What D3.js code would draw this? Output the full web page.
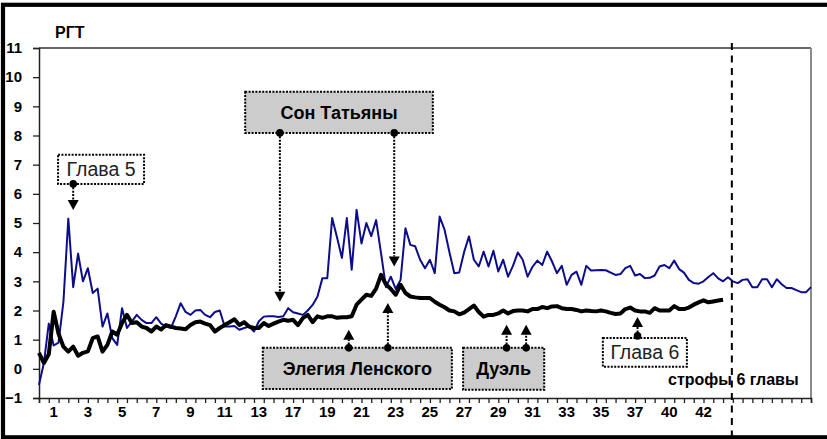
<!DOCTYPE html>
<html>
<head>
<meta charset="utf-8">
<script src="https://cdn.jsdelivr.net/npm/d3@7"></script>
<style>
  body { margin: 0; background: #fff; }
  svg { display: block; }
  text { font-family: "Liberation Sans", Arial, sans-serif; }
</style>
</head>
<body>
<svg id="chart" width="827" height="439"></svg>
<script>
// values, one per category (x position)
const blueSeries = [
  -0.55, 0.2, 1.55, 0.8, 0.9, 2.3, 5.15, 2.8, 3.95, 3.0,
  3.45, 2.6, 2.75, 1.45, 1.9, 1.05, 0.82, 2.08, 1.4, 1.62,
  1.85, 1.68, 1.57, 1.57, 1.77, 1.55, 1.45, 1.4, 1.8, 2.25,
  1.95, 1.85, 2.0, 2.02, 1.85, 1.77, 1.95, 2.0, 1.45, 1.45,
  1.47, 1.34, 1.4, 1.45, 1.28, 1.63, 1.79, 1.8, 1.8, 1.78,
  1.8, 2.08, 1.94, 1.9, 1.85, 2.0, 2.19, 2.48, 3.11, 3.11,
  5.17, 4.5, 3.8, 5.17, 3.4, 5.45, 4.3, 5.0, 4.55, 5.1,
  3.97, 2.8, 3.16, 2.74, 3.05, 4.82, 4.25, 4.2, 3.74, 3.45,
  3.74, 3.28, 5.22, 4.77, 4.0, 3.28, 3.3, 4.0, 4.54, 3.74,
  3.51, 4.02, 3.51, 4.05, 3.34, 3.74, 3.16, 3.53, 3.99, 3.74,
  3.16, 3.5, 3.71, 3.56, 4.02, 3.68, 3.28, 3.53, 2.88, 3.22,
  3.33, 2.88, 3.53, 3.37, 3.38, 3.39, 3.38, 3.3, 3.22, 3.25,
  3.45, 3.53, 3.2, 3.25, 3.11, 3.12, 3.2, 3.51, 3.56, 3.45,
  3.71, 3.42, 3.3, 3.05, 2.94, 2.92, 3.0, 3.15, 3.28, 3.1,
  3.0, 3.14, 3.0, 2.94, 3.05, 3.07, 2.8, 2.8, 3.07, 3.07,
  2.8, 3.07, 2.9, 2.77, 2.77, 2.7, 2.63, 2.63, 2.8
]

const blackSeries = [
  0.55, 0.2, 0.5, 1.96, 1.2, 0.76, 0.59, 0.76, 0.45, 0.55,
  0.6, 1.05, 1.11, 0.59, 0.82, 1.28, 1.17, 1.57, 1.85, 1.57,
  1.6, 1.45, 1.4, 1.28, 1.45, 1.35, 1.5, 1.45, 1.4, 1.38,
  1.36, 1.5, 1.6, 1.62, 1.55, 1.5, 1.28, 1.4, 1.5, 1.6,
  1.7, 1.5, 1.6, 1.45, 1.4, 1.4, 1.57, 1.47, 1.55, 1.62,
  1.68, 1.65, 1.68, 1.5, 1.74, 1.85, 1.6, 1.8, 1.75, 1.8,
  1.8, 1.75, 1.77, 1.77, 1.8, 2.2, 2.37, 2.54, 2.5, 2.75,
  3.22, 2.9, 2.74, 2.54, 2.88, 2.6, 2.48, 2.45, 2.43, 2.43,
  2.43, 2.3, 2.2, 2.11, 2.0, 1.97, 1.87, 1.93, 2.05, 2.17,
  1.95, 1.79, 1.85, 1.85, 1.9, 2.0, 1.9, 1.98, 2.0, 2.0,
  1.97, 2.05, 2.05, 2.12, 2.08, 2.14, 2.15, 2.08, 2.05, 2.05,
  2.02, 1.97, 2.0, 1.98, 1.97, 2.0, 1.97, 1.92, 1.88, 1.9,
  2.05, 2.1, 2.0, 1.97, 1.97, 1.92, 2.08, 2.0, 2.0, 2.0,
  2.15, 2.05, 2.05, 2.1, 2.2, 2.28, 2.35, 2.28, 2.31, 2.34,
  2.37
]

// stanza numbers shown under the axis, one every 7 categories from category 3
const tickLabels = ['1', '3', '5', '7', '9', '11', '13', '17', '19', '21',
  '23', '25', '27', '29', '31', '33', '35', '37', '40', '42']
const yTicks = [-1, 0, 1, 2, 3, 4, 5, 6, 7, 8, 9, 10, 11]

const nCat = blueSeries.length - 1
const margin = {left: 39, right: 16, top: 48, bottom: 41}
const width = 827
const height = 439

const svg = d3.select('#chart')
const x = d3.scaleLinear().domain([0, nCat]).range([margin.left, width - margin.right])
const y = d3.scaleLinear().domain([-1, 11]).range([height - margin.bottom, margin.top])

// outer thick frame (right side runs off the picture)
svg.append('rect')
  .attr('x', 3).attr('y', 4.8)
  .attr('width', 900).attr('height', 432.5)
  .attr('fill', 'none').attr('stroke', '#000').attr('stroke-width', 4.2)

// plot area border (top + right)
svg.append('line')
  .attr('x1', x(0)).attr('x2', x(nCat))
  .attr('y1', y(11)).attr('y2', y(11))
  .attr('stroke', '#333').attr('stroke-width', 1.5)
svg.append('line')
  .attr('x1', x(nCat)).attr('x2', x(nCat))
  .attr('y1', y(11)).attr('y2', y(-1))
  .attr('stroke', '#8a8a8a').attr('stroke-width', 2)

// y axis
const yAxis = svg.append('g')
  .attr('transform', `translate(${x(0)},0)`)
  .call(d3.axisLeft(y).tickValues(yTicks).tickSize(6).tickPadding(11).tickFormat(d3.format('d')))
yAxis.select('.domain').attr('stroke', '#222').attr('stroke-width', 1.5)
yAxis.selectAll('.tick line').attr('stroke', '#222').attr('stroke-width', 1.3)
yAxis.selectAll('.tick text')
  .attr('font-size', 15).attr('font-weight', 'bold').attr('fill', '#000')
  .style('font-family', '"Liberation Sans", Arial, sans-serif')

// x axis: tick marks every 2 categories, labels every 7
const xAxis = svg.append('g')
  .attr('transform', `translate(0,${y(-1)})`)
  .call(d3.axisBottom(x).tickValues(d3.range(0, nCat + 1, 2)).tickSize(5).tickFormat(''))
xAxis.select('.domain').attr('stroke', '#222').attr('stroke-width', 1.5)
xAxis.selectAll('.tick line').attr('stroke', '#222').attr('stroke-width', 1.3)

svg.append('g')
  .selectAll('text')
  .data(tickLabels)
  .join('text')
  .attr('x', (d, i) => x(3 + 7 * i))
  .attr('y', y(-1) + 19)
  .attr('text-anchor', 'middle')
  .attr('font-size', 15)
  .attr('font-weight', 'bold')
  .text(d => d)

// axis title
svg.append('text')
  .attr('x', 55).attr('y', 38)
  .attr('font-size', 16).attr('font-weight', 'bold')
  .text('РГТ')

// series
const line = d3.line()
  .x((d, i) => x(i))
  .y(d => y(d))

svg.append('path')
  .datum(blueSeries)
  .attr('d', line)
  .attr('fill', 'none')
  .attr('stroke', '#0d0d8c')
  .attr('stroke-width', 2)
  .attr('stroke-linejoin', 'round')

svg.append('path')
  .datum(blackSeries)
  .attr('d', line)
  .attr('fill', 'none')
  .attr('stroke', '#000')
  .attr('stroke-width', 4)
  .attr('stroke-linejoin', 'round')

// chapter boundary
svg.append('line')
  .attr('x1', x(141.8)).attr('x2', x(141.8))
  .attr('y1', 43).attr('y2', 436)
  .attr('stroke', '#000').attr('stroke-width', 2)
  .attr('stroke-dasharray', '7,5.5')

svg.append('text')
  .attr('x', 668).attr('y', 385)
  .attr('font-size', 16).attr('font-weight', 'bold')
  .text('строфы 6 главы')

// annotations: box in category/value units, arrows run from box edge to tip
const notes = [
  {text: 'Глава 5', bold: false, fill: '#fff', size: 19.5, box: [3.9, 21.5, 7.34, 6.34],
    arrows: [{i: 7.0, from: 6.34, to: 5.45}]},
  {text: 'Сон Татьяны', bold: true, fill: '#cccccc', size: 18, box: [42.2, 80.6, 9.5, 8.09],
    arrows: [{i: 49.3, from: 8.09, to: 2.3}, {i: 72.7, from: 8.09, to: 3.51}]},
  {text: 'Элегия Ленского', bold: true, fill: '#cccccc', size: 18, box: [45.8, 84.5, 0.72, -0.69],
    arrows: [{i: 63.4, from: 0.72, to: 1.34}, {i: 71.4, from: 0.72, to: 2.26}]},
  {text: 'Дуэль', bold: true, fill: '#cccccc', size: 18, box: [86.8, 103.4, 0.72, -0.72],
    arrows: [{i: 95.7, from: 0.72, to: 1.51}, {i: 99.7, from: 0.72, to: 1.51}]},
  {text: 'Глава 6', bold: false, fill: '#fff', size: 19.5, box: [115.4, 132.6, 1.06, 0.07],
    arrows: [{i: 122.5, from: 1.13, to: 1.78}]}
]

const dots = '2,1.4'

notes.forEach(n => {
  const g = svg.append('g')
  const x0 = x(n.box[0]), x1 = x(n.box[1])
  const y0 = y(n.box[2]), y1 = y(n.box[3])
  g.append('rect')
    .attr('x', x0).attr('y', y0)
    .attr('width', x1 - x0).attr('height', y1 - y0)
    .attr('fill', n.fill)
    .attr('stroke', '#000').attr('stroke-width', 2)
    .attr('stroke-dasharray', dots)
  g.append('text')
    .attr('x', (x0 + x1) / 2)
    .attr('y', (y0 + y1) / 2 + n.size * 0.36)
    .attr('text-anchor', 'middle')
    .attr('font-size', n.size)
    .attr('font-weight', n.bold ? 'bold' : 'normal')
    .attr('fill', n.bold ? '#000' : '#222')
    .text(n.text)

  n.arrows.forEach(a => {
    const ax = x(a.i)
    const ys = y(a.from)
    const yt = y(a.to)
    const dir = yt > ys ? 1 : -1
    const headLen = 10
    g.append('line')
      .attr('x1', ax).attr('x2', ax)
      .attr('y1', ys).attr('y2', yt - dir * headLen)
      .attr('stroke', '#000').attr('stroke-width', 2)
      .attr('stroke-dasharray', dots)
    g.append('circle')
      .attr('cx', ax).attr('cy', ys).attr('r', 3.8)
      .attr('fill', '#000')
    g.append('path')
      .attr('d', `M${ax - 5.5},${yt - dir * headLen}L${ax + 5.5},${yt - dir * headLen}L${ax},${yt}Z`)
      .attr('fill', '#000')
  })
})
</script>
</body>
</html>
